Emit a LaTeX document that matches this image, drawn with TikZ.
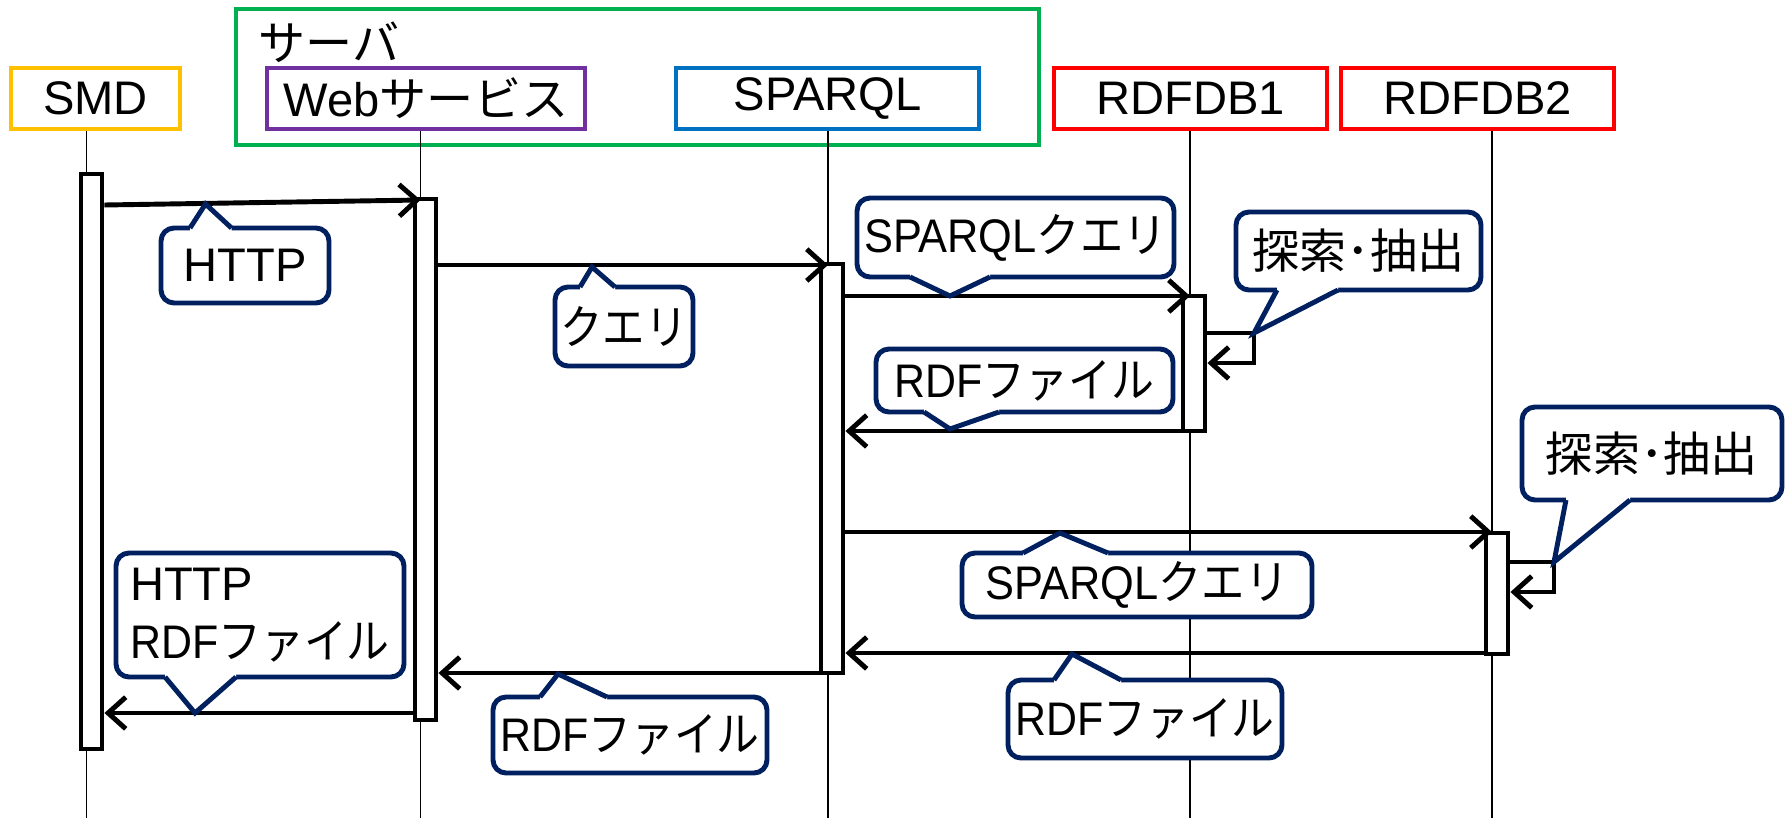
\documentclass[tikz,border=0pt]{standalone}
\usepackage{fontspec}
\setmainfont{Liberation Sans}
\newfontfamily\jp{Noto Sans CJK JP}
\usetikzlibrary{arrows.meta}

\definecolor{cOrange}{HTML}{FFC000}
\definecolor{cGreen}{HTML}{00B050}
\definecolor{cPurple}{HTML}{7030A0}
\definecolor{cBlue}{HTML}{0070C0}
\definecolor{cRed}{HTML}{FF0000}
\definecolor{cNavy}{HTML}{002060}

% Japanese run inside Latin text
\newcommand\J[1]{{\jp #1}}
% horizontally condensed text
\newcommand\sq[2]{\scalebox{#1}[1]{#2}}
% rectangle node given by its corners: style, name, x1, y1, x2, y2, text
\newcommand\boxnode[7]{%
  \node[#1, minimum width={(#5-#3)*0.01cm}, minimum height={(#6-#4)*0.01cm}]
    (#2) at ({(#3+#5)/2},{(#4+#6)/2}) {#7};}
% speech-bubble pointer: base x left, base x right, base y, inner y, tip x, tip y
\newcommand\pointer[6]{%
  \fill[white] (#1,#4) -- (#1,#3) -- (#5,#6) -- (#2,#3) -- (#2,#4) -- cycle;
  \draw[ptrline] (#1,#3) -- (#5,#6) -- (#2,#3);}

\begin{document}
\begin{tikzpicture}[x=0.01cm,y=-0.01cm,
  font=\fontsize{13.4}{16.5}\selectfont,
  frame/.style={draw=cGreen, line width=1.4pt, inner sep=0pt},
  hdr/.style={draw=#1, line width=1.4pt, fill=white, inner sep=0pt},
  life/.style={line width=0.55pt},
  actbar/.style={draw, fill=white, line width=1.4pt, inner sep=0pt},
  msg/.style={line width=1.4pt, -{Straight Barb[length=5pt,width=9pt]}},
  bubble/.style={draw=cNavy, fill=white, line width=1.4pt, rounded corners=3.7pt, inner sep=0pt},
  ptrline/.style={draw=cNavy, line width=1.4pt, line join=miter}
]
\useasboundingbox (0,0) rectangle (1787,818);

% server group
\boxnode{frame}{server}{236}{9}{1039}{145}{}
\node[anchor=west, inner sep=0pt] (serverT) at (258,42) {\J{サーバ}};

% participants
\boxnode{hdr=cOrange}{smdH}{11}{68}{180}{129}{SMD}
\boxnode{hdr=cPurple}{webH}{267}{68}{585}{129}{Web\J{サービス}}
\boxnode{hdr=cBlue}{sparqlH}{676}{68}{979}{129}{SPARQL}
\boxnode{hdr=cRed}{db1H}{1054}{68}{1327}{129}{RDFDB1}
\boxnode{hdr=cRed}{db2H}{1341}{68}{1614}{129}{RDFDB2}

% lifelines
\coordinate (smdL) at (86.5,818);
\coordinate (webL) at (420.5,818);
\coordinate (sparqlL) at (828,818);
\coordinate (db1L) at (1190,818);
\coordinate (db2L) at (1492,818);
\draw[life] (smdH.south -| smdL) -- (smdL);
\draw[life] (webH.south -| webL) -- (webL);
\draw[life] (sparqlH.south -| sparqlL) -- (sparqlL);
\draw[life] (db1H.south -| db1L) -- (db1L);
\draw[life] (db2H.south -| db2L) -- (db2L);

% activation bars
\boxnode{actbar}{smdA}{81}{174}{102}{749}{}
\boxnode{actbar}{webA}{415}{199}{436}{720}{}
\boxnode{actbar}{sparqlA}{821}{264}{843}{673}{}
\boxnode{actbar}{db1A}{1183}{296}{1205}{431}{}
\boxnode{actbar}{db2A}{1486}{533}{1508}{654}{}

% messages
\coordinate (loop1) at (1254,333);
\coordinate (loop2) at (1554,562);
\draw[msg] (smdA.east |- 0,205) -- (webL |- 0,200);
\draw[msg] (webA.east |- 0,265) -- (sparqlL |- 0,265);
\draw[msg] (sparqlA.east |- 0,296) -- (db1L |- 0,296);
\draw[msg] (db1A.east |- loop1) -- (loop1) -- (loop1 |- 0,363) -- (db1A.east |- 0,363);
\draw[msg] (db1A.west |- 0,431) -- (sparqlA.east |- 0,431);
\draw[msg] (sparqlA.east |- 0,532) -- (db2L |- 0,532);
\draw[msg] (db2A.east |- loop2) -- (loop2) -- (loop2 |- 0,592) -- (db2A.east |- 0,592);
\draw[msg] (db2A.west |- 0,653) -- (sparqlA.east |- 0,653);
\draw[msg] (sparqlA.west |- 0,673) -- (webA.east |- 0,673);
\draw[msg] (webA.west |- 0,713) -- (smdA.east |- 0,713);

% message labels
\boxnode{bubble}{lHttp}{161}{228}{329}{303}{HTTP}
\pointer{190}{231.5}{228}{232}{205.5}{204}

\boxnode{bubble}{lQuery}{555}{287}{693}{366}{\sq{0.9}{\J{クエリ}}}
\pointer{580}{615}{287}{291}{592}{267}

\boxnode{bubble}{lSparql1}{857}{198}{1174}{277}{\sq{0.92}{SPARQL\J{クエリ}}}
\pointer{910}{990}{277}{273}{950}{296}

\boxnode{bubble}{lRdf1}{876}{349}{1173}{412}{\sq{0.91}{RDF\J{ファイル}}}
\pointer{924}{999}{412}{408}{950}{429}

\boxnode{bubble}{lSearch1}{1236}{212}{1481}{290}{\J{探索･抽出}}
\pointer{1277}{1338}{290}{286}{1254}{333}

\boxnode{bubble}{lSearch2}{1522}{407}{1782}{500}{\J{探索･抽出}}
\pointer{1566}{1630}{500}{496}{1554}{562}

\boxnode{bubble}{lSparql2}{962}{553}{1312}{617}{\sq{0.92}{SPARQL\J{クエリ}}}
\pointer{1023}{1108}{553}{557}{1060}{533}

\boxnode{bubble}{lRdf2}{1008}{680}{1282}{758}{\sq{0.91}{RDF\J{ファイル}}}
\pointer{1054}{1121}{680}{684}{1072}{654}

\boxnode{bubble}{lRdf3}{493}{697}{767}{773}{\sq{0.91}{RDF\J{ファイル}}}
\pointer{540}{607}{697}{701}{558}{674}

\boxnode{bubble, align=left}{lHttpRdf}{116}{553}{404}{677}{HTTP\\\sq{0.91}{RDF\J{ファイル}}}
\pointer{165}{236}{677}{673}{195}{713}
\end{tikzpicture}
\end{document}
